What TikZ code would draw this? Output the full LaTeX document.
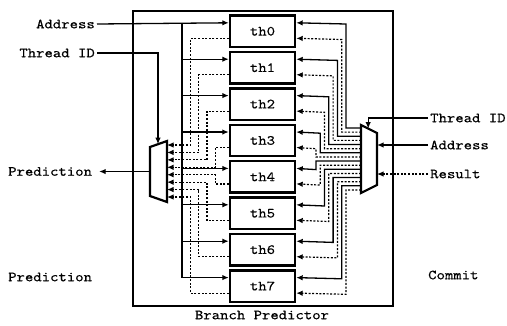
\documentclass[tikz,border=0pt]{standalone}
\usepackage{fontspec}
\usetikzlibrary{arrows.meta,calc}
\newfontfamily\dgff{lmmono10-regular.otf}[FakeStretch=1.14,FakeBold=0.4]
\newcommand\dgfont{\dgff\fontsize{14}{16}\selectfont}
\begin{document}
\begin{tikzpicture}[x=1pt,y=-1pt,
  thbox/.style={draw, line width=2.4pt, minimum width=65pt, minimum height=31.5pt, inner sep=0pt, font=\dgfont},
  lbl/.style={font=\dgfont, inner sep=2pt},
  conn/.style={line width=1.3pt},
  arr/.style={conn, -{Latex[length=6.5pt,width=5.5pt]}},
  dsh/.style={line width=1.2pt, dash pattern=on 2pt off 1.6pt},
  darr/.style={dsh, -{Latex[length=6.5pt,width=5.5pt]}},
  muxs/.style={line width=2.2pt, fill=white, line join=miter}]
\useasboundingbox (0,0) rectangle (507,325);

% outer box
\node[draw, line width=2.4pt, minimum width=260pt, minimum height=295pt, inner sep=0pt] (bp) at (263,158.5) {};
\node[lbl] (bpl) at (262,315) {Branch Predictor};

% thread tables
\foreach \i in {0,...,7}{
  \pgfmathsetmacro\cy{15.5+36.4*\i+15.75}
  \node[thbox] (th\i) at (262.5,\cy) {th\i};
  \coordinate (ls\i) at ($(th\i.north west)+(0,8.5)$);
  \coordinate (ld\i) at ($(th\i.north west)+(0,24)$);
  \coordinate (rs\i) at ($(th\i.north east)+(0,8.5)$);
  \coordinate (rd\i) at ($(th\i.north east)+(0,24)$);
}

% labels
\node[lbl, anchor=east] (addrL) at (97,24) {Address};
\node[lbl, anchor=east] (tidL) at (97,53) {Thread ID};
\node[lbl, anchor=west] (predL) at (6,171.5) {Prediction};
\node[lbl, anchor=west] (predB) at (6,277) {Prediction};
\node[lbl, anchor=west] (tidR) at (428,118) {Thread ID};
\node[lbl, anchor=west] (addrR) at (428,145) {Address};
\node[lbl, anchor=west] (resR) at (428,174) {Result};
\node[lbl, anchor=west] (commit) at (426,275) {Commit};

% left bus
\coordinate (bx) at (182,0);
\draw[arr] (addrL.east) -- (ls0);
\draw[conn] (bx |- ls0) -- (bx |- ls7);
\foreach \i in {1,...,7} \draw[arr] (bx |- ls\i) -- (ls\i);

% left dashed to mux
\foreach \i in {0,...,7}{
  \pgfmathsetmacro\vx{\i<4 ? 190.5+8.2*\i : 215.1-8.2*(\i-4)}
  \pgfmathsetmacro\my{145+7.43*\i}
  \coordinate (lin\i) at (167,\my);
  \draw[darr] (ld\i) -| (\vx,\my) -- (lin\i);
}

% left mux
\draw[muxs] (150,147) coordinate (lm1) -- (167,141) coordinate (lm2) -- (167,202) coordinate (lm3) -- (150,196) coordinate (lm4) -- cycle;
\coordinate (ltid) at ($(lm1)!0.47!(lm2)$);
\coordinate (lout) at ($(lm1)!0.5!(lm4)$);
\draw[arr] (tidL.east) -| (ltid);
\draw[arr] (lout) -- ([xshift=5pt]predL.east);

% right mux outputs
\foreach \i in {0,...,7}{
  \pgfmathsetmacro\rsy{128+4.13*2*\i}
  \pgfmathsetmacro\rdy{128+4.13*(2*\i+1)}
  \pgfmathsetmacro\xs{\i<4 ? 346-4.3*2*\i : 346-4.3*(15-2*\i)}
  \pgfmathsetmacro\xd{\i<4 ? 346-4.3*(2*\i+1) : 346-4.3*(14-2*\i)}
  \pgfmathsetmacro\ys{15.5+36.4*\i+8.5}
  \pgfmathsetmacro\yd{15.5+36.4*\i+24}
  \coordinate (mos\i) at (361,\rsy);
  \coordinate (mod\i) at (361,\rdy);
  \draw[arr] (mos\i) -| (\xs,\ys) -- (rs\i);
  \draw[darr] (mod\i) -| (\xd,\yd) -- (rd\i);
}

% right mux
\draw[muxs] (361,125) coordinate (rm1) -- (377,133) coordinate (rm2) -- (377,185) coordinate (rm3) -- (361,193) coordinate (rm4) -- cycle;
\coordinate (rtid) at ($(rm1)!0.45!(rm2)$);
\coordinate (raddr) at (377,145);
\coordinate (rres) at (377,174);
\draw[arr] (tidR.west) -| (rtid);
\draw[arr] (addrR.west) -- (raddr);
\draw[darr] (resR.west) -- (rres);
\end{tikzpicture}
\end{document}
